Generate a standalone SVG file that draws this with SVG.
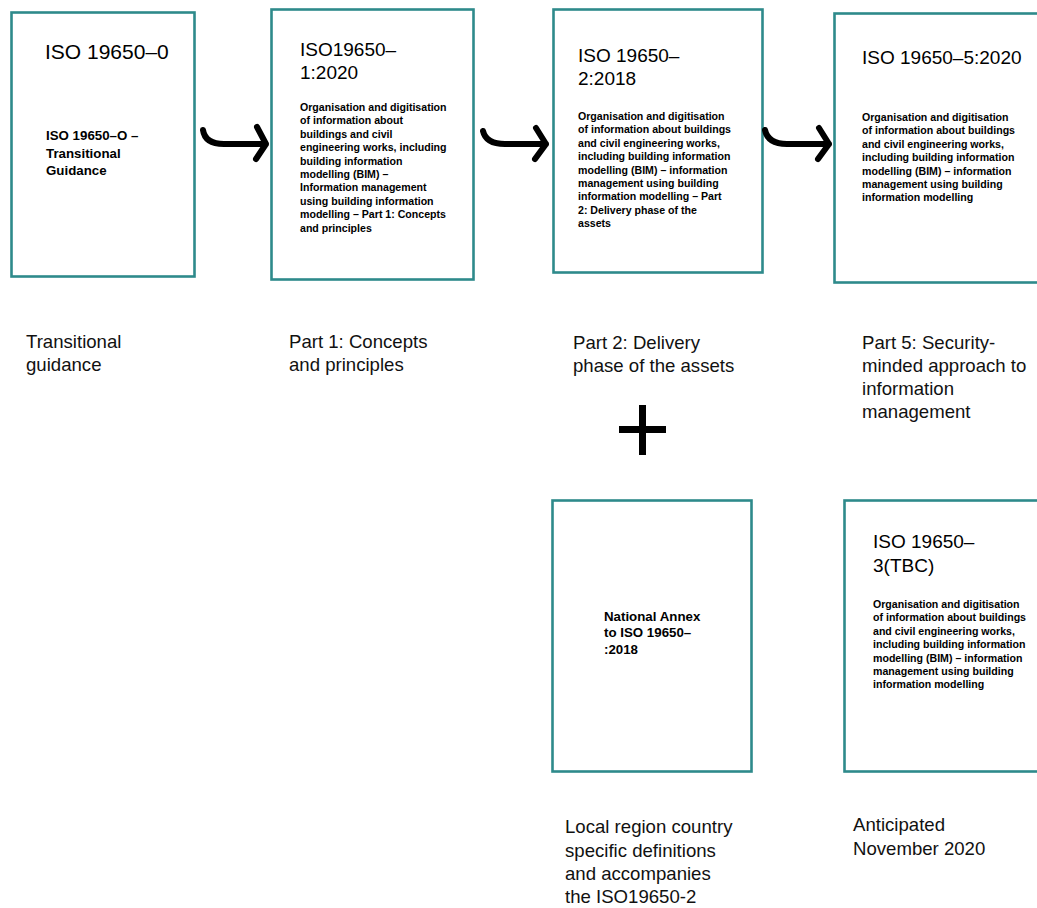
<svg xmlns="http://www.w3.org/2000/svg" width="1037" height="908" viewBox="0 0 1037 908">
<style>
.box{fill:#fff;stroke:#2e8a8b;stroke-width:2.6}
.t{font-family:"Liberation Sans",Arial,sans-serif;fill:#000}
.title{font-size:19px}
.body{font-size:10.6px;font-weight:bold}
.sub{font-size:13.3px;font-weight:bold}
.lbl{font-size:18.6px;fill:#111}
.arr{fill:none;stroke:#000;stroke-width:6;stroke-linecap:round;stroke-linejoin:round}
</style>
<rect width="1037" height="908" fill="#fff"/>
<g id="node-iso0">
<rect class="box" x="11.5" y="12.5" width="183" height="264"/>
<text class="t" x="45" y="59" style="font-size:21px">ISO 19650–0</text>
<text class="t sub" x="46"><tspan x="46" y="140">ISO 19650–O –</tspan><tspan x="46" y="158">Transitional</tspan><tspan x="46" y="175">Guidance</tspan></text>
</g>
<g id="node-iso1">
<rect class="box" x="271.5" y="9.5" width="202" height="270"/>
<text class="t title"><tspan x="300" y="56">ISO19650–</tspan><tspan x="300" y="79">1:2020</tspan></text>
<text class="t body"><tspan x="300" y="111">Organisation and digitisation</tspan><tspan x="300" y="124.4">of information about</tspan><tspan x="300" y="137.8">buildings and civil</tspan><tspan x="300" y="151.2">engineering works, including</tspan><tspan x="300" y="164.6">building information</tspan><tspan x="300" y="178">modelling (BIM) –</tspan><tspan x="300" y="191.4">Information management</tspan><tspan x="300" y="204.8">using building information</tspan><tspan x="300" y="218.2">modelling – Part 1: Concepts</tspan><tspan x="300" y="231.6">and principles</tspan></text>
</g>
<g id="node-iso2">
<rect class="box" x="553.5" y="9.5" width="209" height="263"/>
<text class="t title"><tspan x="578" y="62">ISO 19650–</tspan><tspan x="578" y="85">2:2018</tspan></text>
<text class="t body"><tspan x="578" y="120">Organisation and digitisation</tspan><tspan x="578" y="133.4">of information about buildings</tspan><tspan x="578" y="146.8">and civil engineering works,</tspan><tspan x="578" y="160.2">including building information</tspan><tspan x="578" y="173.6">modelling (BIM) – information</tspan><tspan x="578" y="187">management using building</tspan><tspan x="578" y="200.4">information modelling – Part</tspan><tspan x="578" y="213.8">2: Delivery phase of the</tspan><tspan x="578" y="227.2">assets</tspan></text>
</g>
<g id="node-iso5">
<rect class="box" x="834.5" y="13.5" width="210" height="269"/>
<text class="t title" x="862" y="64">ISO 19650–5:2020</text>
<text class="t body"><tspan x="862" y="121">Organisation and digitisation</tspan><tspan x="862" y="134.4">of information about buildings</tspan><tspan x="862" y="147.8">and civil engineering works,</tspan><tspan x="862" y="161.2">including building information</tspan><tspan x="862" y="174.6">modelling (BIM) – information</tspan><tspan x="862" y="188">management using building</tspan><tspan x="862" y="201.4">information modelling</tspan></text>
</g>
<g id="node-annex">
<rect class="box" x="552.5" y="500.5" width="199" height="271"/>
<text class="t sub"><tspan x="604" y="621">National Annex</tspan><tspan x="604" y="637">to ISO 19650–</tspan><tspan x="604" y="654">:2018</tspan></text>
</g>
<g id="node-iso3">
<rect class="box" x="844.5" y="500.5" width="200" height="271"/>
<text class="t title"><tspan x="873" y="548">ISO 19650–</tspan><tspan x="873" y="572">3(TBC)</tspan></text>
<text class="t body"><tspan x="873" y="608">Organisation and digitisation</tspan><tspan x="873" y="621.4">of information about buildings</tspan><tspan x="873" y="634.8">and civil engineering works,</tspan><tspan x="873" y="648.2">including building information</tspan><tspan x="873" y="661.6">modelling (BIM) – information</tspan><tspan x="873" y="675">management using building</tspan><tspan x="873" y="688.4">information modelling</tspan></text>
</g>
<g id="connectors">
<path class="arr" d="M203,130 Q205,144 224,144 L266,144 M257,127 L266,144 L256,159"/>
<path class="arr" d="M483,131 Q486,144 505,144 L546,144 M536,128 L546,144 L535,159"/>
<path class="arr" d="M765,130 Q768,144 787,144 L829,144 M819,128 L829,144 L818,159"/>
</g>
<g id="plus">
<rect x="639" y="405" width="7" height="50" fill="#000"/>
<rect x="619" y="426" width="47" height="7" fill="#000"/>
</g>
<g id="labels">
<text class="t lbl"><tspan x="26" y="348">Transitional</tspan><tspan x="26" y="371">guidance</tspan></text>
<text class="t lbl"><tspan x="289" y="348">Part 1: Concepts</tspan><tspan x="289" y="371">and principles</tspan></text>
<text class="t lbl"><tspan x="573" y="349">Part 2: Delivery</tspan><tspan x="573" y="372">phase of the assets</tspan></text>
<text class="t lbl"><tspan x="862" y="349">Part 5: Security-</tspan><tspan x="862" y="372">minded approach to</tspan><tspan x="862" y="395">information</tspan><tspan x="862" y="418">management</tspan></text>
<text class="t lbl"><tspan x="565" y="833">Local region country</tspan><tspan x="565" y="857">specific definitions</tspan><tspan x="565" y="880">and accompanies</tspan><tspan x="565" y="903">the ISO19650-2</tspan></text>
<text class="t lbl"><tspan x="853" y="831">Anticipated</tspan><tspan x="853" y="855">November 2020</tspan></text>
</g>
</svg>
